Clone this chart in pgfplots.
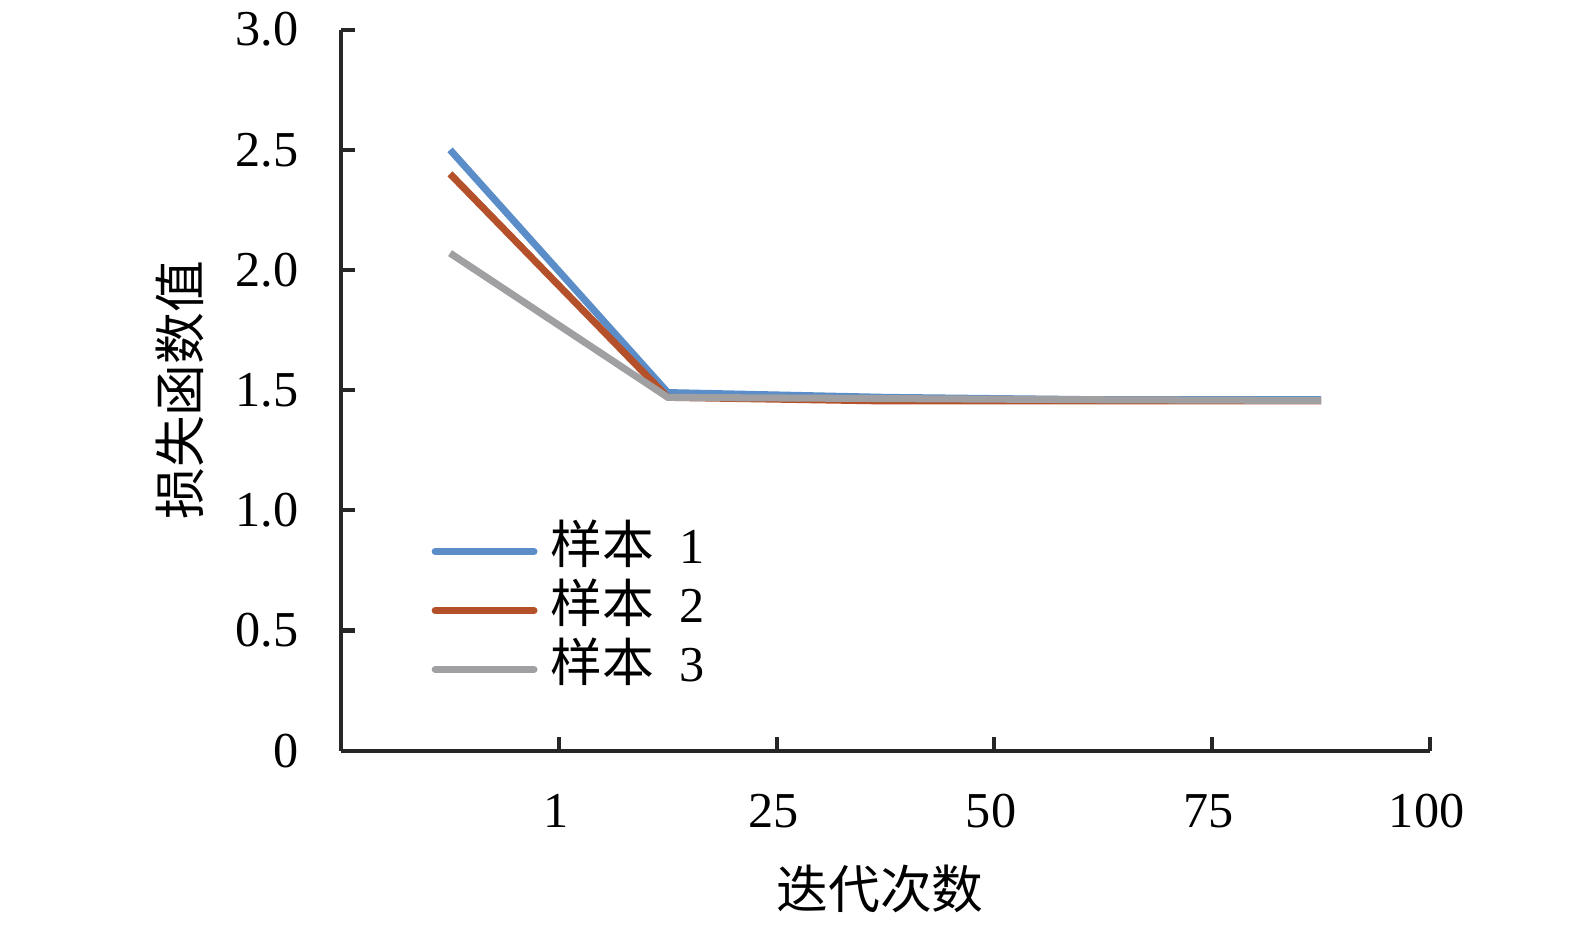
\documentclass[border=0pt]{standalone}
\usepackage{fontspec}
\setmainfont{Liberation Serif}
\newfontfamily\cjk{Noto Sans CJK SC}[Scale=1.03]
\usepackage{pgfplots}
\pgfplotsset{compat=1.18}
\definecolor{s1}{HTML}{5B8DC8}
\definecolor{s2}{HTML}{B4502A}
\definecolor{s3}{HTML}{A0A0A2}
\begin{document}%
\fontsize{15}{18}\selectfont%
\begin{tikzpicture}
\useasboundingbox (-101.85pt,-51.9pt) rectangle (368.35pt,224.1pt);
\begin{axis}[
  scale only axis,
  width=325.05pt, height=215.25pt,
  at={(0,0)}, anchor=south west,
  xmin=0, xmax=5, ymin=0, ymax=3,
  axis lines*=left,
  axis line style={line width=1.2pt, black!85},
  xtick={1,2,3,4,5},
  xticklabels={1,25,50,75,100},
  ytick={0,0.5,1,1.5,2,2.5,3},
  yticklabels={0,0.5,1.0,1.5,2.0,2.5,3.0},
  tick style={line width=1.2pt, black!85},
  tick align=inside,
  major tick length=4pt,
  /pgf/number format/assume math mode=true,
  xticklabel style={inner sep=0pt, anchor=north, yshift=-12.9pt, xshift=-1pt, font=\fontsize{15}{18}\selectfont},
  yticklabel style={inner sep=0pt, anchor=east, xshift=-12.6pt, font=\fontsize{15}{18}\selectfont},
  xlabel={\cjk 迭代次数},
  ylabel={\cjk 损失函数值},
  every axis x label/.style={at={(axis description cs:0.495,-0.192)}, anchor=center, font=\fontsize{15}{18}\selectfont},
  every axis y label/.style={at={(axis description cs:-0.1485,0.5)}, rotate=90, anchor=center, font=\fontsize{15}{18}\selectfont},
  legend style={draw=none, fill=none, at={(axis description cs:0.0825,0.318)}, anchor=north west,
    inner sep=0pt, row sep=0pt, font=\fontsize{15}{18}\selectfont,
    nodes={inner sep=1.5pt, text height=11pt, text depth=3.6pt}},
  legend cell align=left,
  legend image code/.code={\draw[#1, line cap=round] (0pt,0pt) -- (29.5pt,0pt);},
  every axis plot/.append style={line width=2.1pt, line join=round},
]
\addplot[s1] coordinates {(0.5,2.50) (1.5,1.49) (2.5,1.47) (3.5,1.46) (4.5,1.46)};
\addlegendentry{\hspace{2.5pt}{\cjk 样本}\ \ 1}
\addplot[s2] coordinates {(0.5,2.40) (1.5,1.47) (2.5,1.455) (3.5,1.455) (4.5,1.455)};
\addlegendentry{\hspace{2.5pt}{\cjk 样本}\ \ 2}
\addplot[s3] coordinates {(0.5,2.07) (1.5,1.47) (2.5,1.465) (3.5,1.46) (4.5,1.457)};
\addlegendentry{\hspace{2.5pt}{\cjk 样本}\ \ 3}
\end{axis}
\end{tikzpicture}%
\end{document}
